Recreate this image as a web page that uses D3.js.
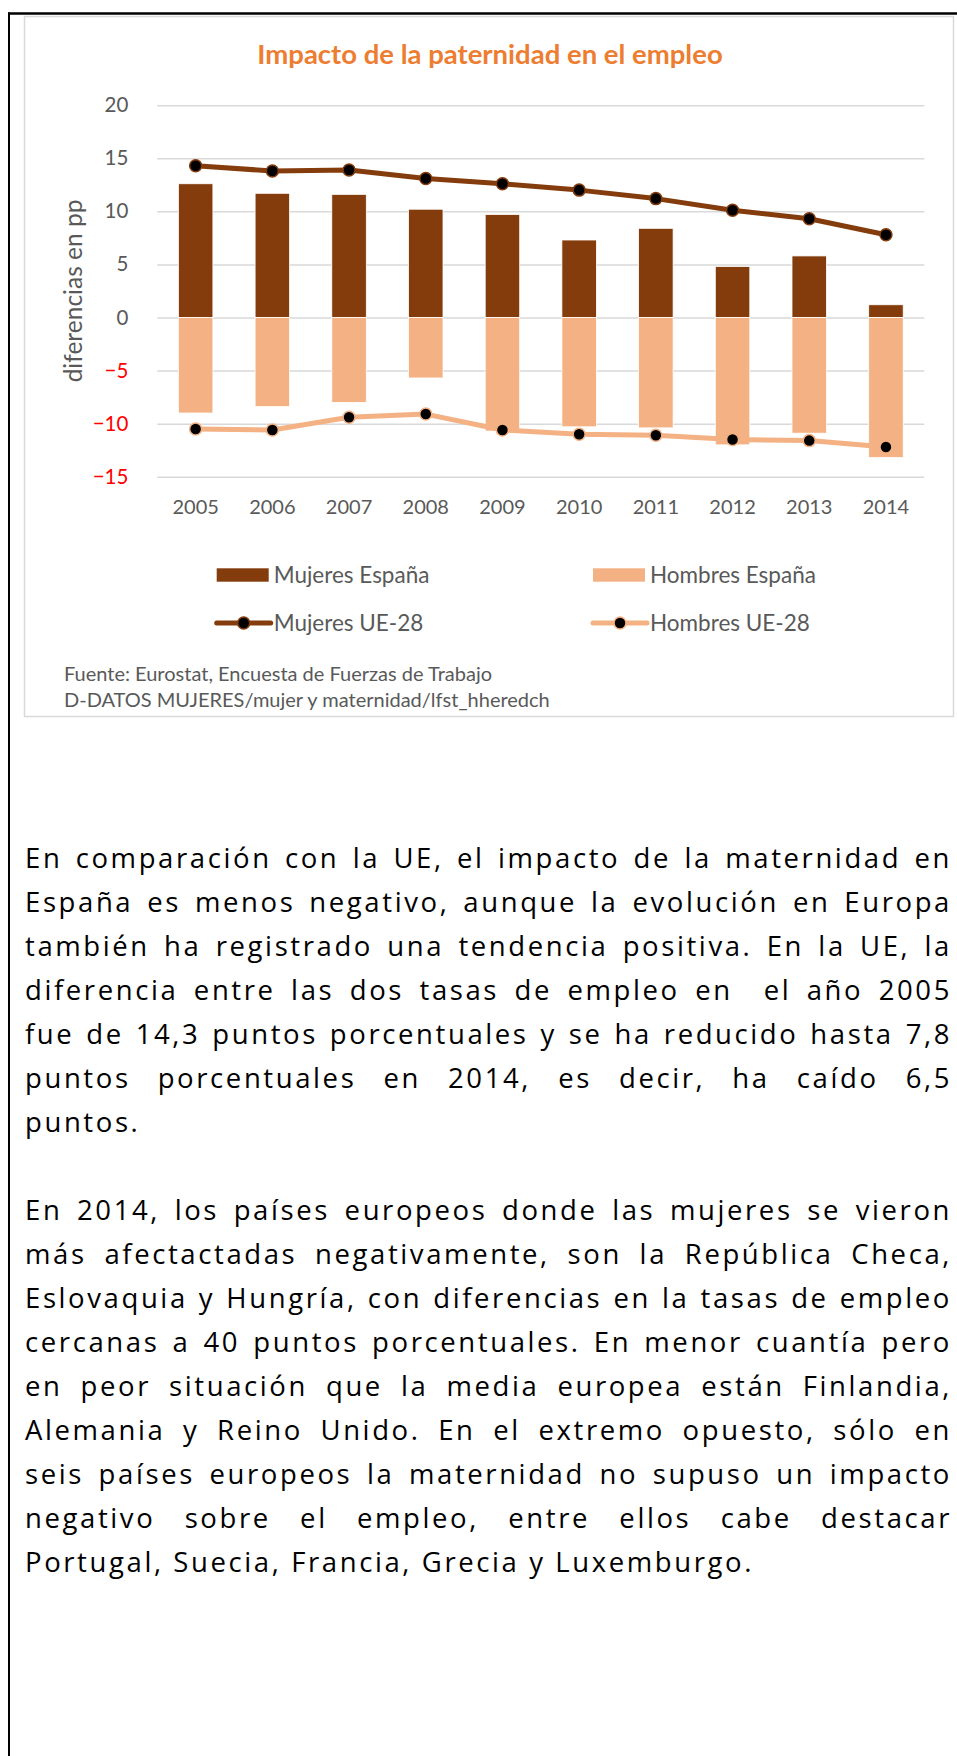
<!DOCTYPE html>
<html>
<head>
<meta charset="utf-8">
<script src="https://cdn.jsdelivr.net/npm/d3@7"></script>
<style>
body { margin: 0; background: #fff; }
svg text { font-family: Lato, "Open Sans", sans-serif; }
</style>
</head>
<body>
<script>
var width = 957, height = 1756;

// data
var years = ["2005", "2006", "2007", "2008", "2009", "2010", "2011", "2012", "2013", "2014"];
var mujeresEspana = [12.6, 11.7, 11.6, 10.2, 9.7, 7.3, 8.4, 4.8, 5.8, 1.2];
var hombresEspana = [-9.0, -8.4, -8.0, -5.7, -10.7, -10.3, -10.4, -12.0, -10.9, -13.2];
var mujeresUE = [14.3, 13.8, 13.9, 13.1, 12.6, 12.0, 11.2, 10.1, 9.3, 7.8];
var hombresUE = [-10.5, -10.6, -9.4, -9.1, -10.6, -11.0, -11.1, -11.5, -11.6, -12.2];
var yTicks = [-15, -10, -5, 0, 5, 10, 15, 20];
var seriesNames = ["Mujeres España", "Hombres España", "Mujeres UE-28", "Hombres UE-28"];

var title = "Impacto de la paternidad en el empleo";
var yTitle = "diferencias en pp";
var sourceLines = ["Fuente: Eurostat, Encuesta de Fuerzas de Trabajo",
  "D-DATOS MUJERES/mujer y maternidad/lfst_hheredch"];

var para1 = [
  "En comparación con la UE, el impacto de la maternidad en",
  "España es menos negativo, aunque la evolución en Europa",
  "también ha registrado una tendencia positiva. En la UE, la",
  "diferencia entre las dos tasas de empleo en  el año 2005",
  "fue de 14,3 puntos porcentuales y se ha reducido hasta 7,8",
  "puntos porcentuales en 2014, es decir, ha caído 6,5",
  "puntos."];
var para2 = [
  "En 2014, los países europeos donde las mujeres se vieron",
  "más afectactadas negativamente, son la República Checa,",
  "Eslovaquia y Hungría, con diferencias en la tasas de empleo",
  "cercanas a 40 puntos porcentuales. En menor cuantía pero",
  "en peor situación que la media europea están Finlandia,",
  "Alemania y Reino Unido. En el extremo opuesto, sólo en",
  "seis países europeos la maternidad no supuso un impacto",
  "negativo sobre el empleo, entre ellos cabe destacar",
  "Portugal, Suecia, Francia, Grecia y Luxemburgo."];

var darkBrown = "#843c0c", salmon = "#f4b183", grey = "#595959";

var svg = d3.select("body").append("svg")
  .attr("width", width)
  .attr("height", height);

// page frame
svg.append("line").attr("x1", 8).attr("x2", width).attr("y1", 13.5).attr("y2", 13.5)
  .attr("stroke", "#000").attr("stroke-width", 2.5);
svg.append("line").attr("x1", 9).attr("x2", 9).attr("y1", 12.5).attr("y2", height)
  .attr("stroke", "#000").attr("stroke-width", 2);

// chart panel
svg.append("rect")
  .attr("x", 24.5).attr("y", 16.5)
  .attr("width", 929).attr("height", 700)
  .attr("fill", "#fff")
  .attr("stroke", "#d9d9d9")
  .attr("stroke-width", 1.5);

svg.append("text")
  .attr("x", 490).attr("y", 64)
  .attr("text-anchor", "middle")
  .attr("font-size", 27.5)
  .attr("font-weight", "bold")
  .attr("fill", "#ed7d31")
  .text(title);

var left = 157.3, right = 924.3;
var x = d3.scaleBand().domain(years).range([left, right]).paddingInner(0.55).paddingOuter(0.275);
var y = d3.scaleLinear().domain([-15, 20]).range([476.7, 105.2]);
var bw = x.bandwidth();

var gy = svg.append("g")
  .attr("transform", "translate(" + left + ",0)")
  .call(d3.axisLeft(y).tickValues(yTicks).tickSize(-(right - left)).tickPadding(29));
gy.select(".domain").remove();
gy.selectAll(".tick line").attr("stroke", "#d9d9d9").attr("stroke-width", 1.5);
gy.selectAll(".tick text")
  .attr("font-size", 20.5)
  .attr("font-family", "Lato, sans-serif")
  .attr("fill", function(d) { return d < 0 ? "#ff0000" : grey; });

var gx = svg.append("g")
  .attr("transform", "translate(0," + y(-15) + ")")
  .call(d3.axisBottom(x).tickSize(0).tickPadding(23));
gx.select(".domain").remove();
gx.selectAll(".tick text")
  .attr("font-size", 20)
  .attr("font-family", "Lato, sans-serif")
  .attr("fill", grey);

svg.append("text")
  .attr("transform", "translate(82,291) rotate(-90)")
  .attr("text-anchor", "middle")
  .attr("font-size", 24.5)
  .attr("fill", grey)
  .text(yTitle);

// bars
svg.append("g").selectAll("rect")
  .data(years)
  .join("rect")
  .attr("x", function(d) { return x(d); })
  .attr("y", function(d, i) { return y(mujeresEspana[i]); })
  .attr("width", bw)
  .attr("height", function(d, i) { return y(0) - y(mujeresEspana[i]); })
  .attr("fill", darkBrown)
  .attr("stroke", "#fff").attr("stroke-width", 0.8);

svg.append("g").selectAll("rect")
  .data(years)
  .join("rect")
  .attr("x", function(d) { return x(d); })
  .attr("y", y(0))
  .attr("width", bw)
  .attr("height", function(d, i) { return y(hombresEspana[i]) - y(0); })
  .attr("fill", salmon)
  .attr("stroke", "#fff").attr("stroke-width", 0.8);

// lines
function drawLine(values, color) {
  var pts = years.map(function(d, i) { return [x(d) + bw / 2, y(values[i])]; });
  svg.append("path")
    .datum(pts)
    .attr("d", d3.line())
    .attr("fill", "none")
    .attr("stroke", color)
    .attr("stroke-width", 5)
    .attr("stroke-linejoin", "round");
  svg.append("g").selectAll("circle")
    .data(pts)
    .join("circle")
    .attr("cx", function(d) { return d[0]; })
    .attr("cy", function(d) { return d[1]; })
    .attr("r", 6)
    .attr("fill", "#000")
    .attr("stroke", color)
    .attr("stroke-width", 1.5);
}
drawLine(mujeresUE, darkBrown);
drawLine(hombresUE, salmon);

// legend
var legendCols = [216.7, 593];
var legendColors = [darkBrown, salmon, darkBrown, salmon];
seriesNames.forEach(function(name, i) {
  var lx = legendCols[i % 2], cy = i < 2 ? 575 : 623;
  var g = svg.append("g");
  if (i < 2) {
    g.append("rect").attr("x", lx).attr("y", cy - 6.7).attr("width", 52).attr("height", 13.4)
      .attr("fill", legendColors[i]);
  } else {
    g.append("line").attr("x1", lx).attr("x2", lx + 54).attr("y1", cy).attr("y2", cy)
      .attr("stroke", legendColors[i]).attr("stroke-width", 5).attr("stroke-linecap", "round");
    g.append("circle").attr("cx", lx + 27).attr("cy", cy).attr("r", 6)
      .attr("fill", "#000").attr("stroke", legendColors[i]).attr("stroke-width", 1.5);
  }
  g.append("text")
    .attr("x", lx + 57).attr("y", cy + 8)
    .attr("font-size", 22.5)
    .attr("fill", grey)
    .text(name);
});

sourceLines.forEach(function(s, i) {
  svg.append("text")
    .attr("x", 64).attr("y", 681 + i * 26)
    .attr("font-size", 20)
    .attr("fill", grey)
    .text(s);
});

// body text, justified line by line
var textLeft = 25, textWidth = 927, lineStep = 44, fs = 27.5;
var bodyFont = "'Open Sans', 'DejaVu Sans', sans-serif";
var probe = svg.append("text").attr("font-size", fs).style("font-family", bodyFont)
  .text(para2[para2.length - 1]);
var natural = probe.node().getComputedTextLength();
var nChars = para2[para2.length - 1].length;
var spacing = Math.max(0, (729 - natural) / nChars);
probe.remove();

function writePara(lines, top) {
  lines.forEach(function(line, i) {
    var t = svg.append("text")
      .attr("x", textLeft)
      .attr("y", top + i * lineStep)
      .attr("font-size", fs)
      .attr("fill", "#000")
      .style("font-family", bodyFont)
      .style("letter-spacing", spacing + "px")
      .style("white-space", "pre")
      .text(line);
    if (i < lines.length - 1) {
      var w = t.node().getComputedTextLength();
      var gaps = line.split(" ").length - 1;
      t.style("word-spacing", ((textWidth - w) / gaps) + "px");
    }
  });
}
writePara(para1, 868);
writePara(para2, 1219.5);
</script>
</body>
</html>
